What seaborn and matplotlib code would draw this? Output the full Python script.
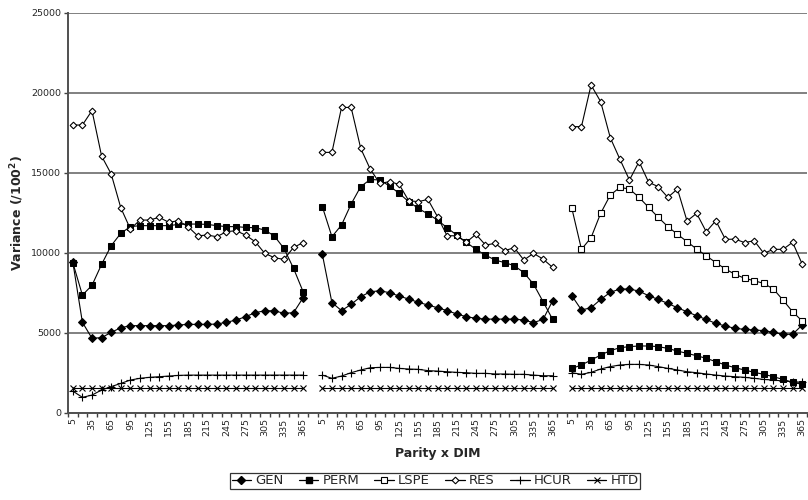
import numpy as np
import pandas as pd
import matplotlib
matplotlib.use("Agg")
import matplotlib.pyplot as plt
from matplotlib.lines import Line2D
import seaborn as sns

sns.set_theme(style="white")
plt.rcParams['font.family'] = ['DejaVu Sans']

dim = [5, 20, 35, 50, 65, 80, 95, 110, 125, 140, 155, 170, 185, 200, 215, 230,
       245, 260, 275, 290, 305, 320, 335, 350, 365]
parities = [1, 2, 3]

gen = [
    [9420, 5650, 4650, 4690, 5020, 5310, 5440, 5440, 5440, 5440, 5440, 5480, 5520,
     5520, 5520, 5540, 5650, 5790, 6000, 6250, 6370, 6370, 6210, 6250, 7190],
    [9900, 6880, 6380, 6770, 7250, 7560, 7620, 7500, 7290, 7100, 6900, 6730, 6560,
     6380, 6170, 6000, 5900, 5850, 5850, 5850, 5850, 5790, 5630, 5830, 7000],
    [7310, 6420, 6560, 7080, 7520, 7730, 7730, 7600, 7310, 7080, 6830, 6560, 6310,
     6060, 5830, 5580, 5420, 5270, 5210, 5170, 5130, 5020, 4900, 4900, 5480],
]
perm = [
    [9380, 7350, 7960, 9270, 10440, 11210, 11630, 11690, 11690, 11690, 11690, 11770, 11790,
     11790, 11770, 11690, 11630, 11630, 11580, 11560, 11420, 11040, 10270, 9020, 7560],
    [12880, 11000, 11730, 13040, 14130, 14580, 14540, 14170, 13710, 13190, 12770, 12420, 12040,
     11560, 11100, 10650, 10210, 9850, 9540, 9380, 9190, 8750, 8040, 6940, 5830],
    [2770, 2980, 3290, 3600, 3880, 4060, 4130, 4170, 4170, 4130, 4020, 3850, 3710,
     3560, 3400, 3190, 2980, 2810, 2670, 2520, 2400, 2250, 2080, 1900, 1770],
]
lspe = [
    [np.nan] * 25,
    [np.nan] * 25,
    [12770, 10210, 10940, 12460, 13600, 14080, 13980, 13460, 12830, 12210, 11630, 11150, 10690,
     10230, 9810, 9380, 8980, 8650, 8400, 8250, 8080, 7730, 7040, 6310, 5730],
]
res = [
    [17980, 17980, 18880, 16040, 14920, 12810, 11480, 12040, 12040, 12210, 11900, 12000, 11630,
     11060, 11100, 11000, 11310, 11380, 11100, 10690, 9960, 9690, 9580, 10330, 10630],
    [16270, 16270, 19080, 19080, 16520, 15210, 14330, 14440, 14270, 13250, 13190, 13330, 12250,
     11060, 11060, 10650, 11150, 10480, 10580, 10130, 10310, 9540, 9960, 9600, 9080],
    [17880, 17880, 20480, 19440, 17190, 15850, 14540, 15690, 14400, 14130, 13460, 13980, 11980,
     12460, 11310, 12000, 10830, 10850, 10630, 10750, 9960, 10210, 10210, 10650, 9290],
]
hcur = [
    [1350, 960, 1100, 1420, 1630, 1830, 2040, 2150, 2210, 2250, 2290, 2330, 2350,
     2350, 2350, 2350, 2350, 2350, 2350, 2350, 2350, 2350, 2350, 2350, 2350],
    [2350, 2150, 2290, 2500, 2670, 2810, 2830, 2830, 2770, 2730, 2710, 2630, 2600,
     2560, 2520, 2500, 2460, 2460, 2420, 2420, 2400, 2400, 2350, 2310, 2310],
    [2500, 2400, 2520, 2730, 2880, 2980, 3020, 3020, 2980, 2880, 2770, 2670, 2560,
     2500, 2420, 2350, 2290, 2250, 2210, 2150, 2080, 2040, 1980, 1940, 1900],
]
htd = [
    [1525] * 25,
    [1525] * 25,
    [1525] * 25,
]

series = ["GEN", "PERM", "LSPE", "RES", "HCUR", "HTD"]
values = {"GEN": gen, "PERM": perm, "LSPE": lspe, "RES": res, "HCUR": hcur, "HTD": htd}
styles = {
    "GEN": dict(marker="D", markersize=3.6, markerfacecolor="black", markeredgecolor="black"),
    "PERM": dict(marker="s", markersize=4.6, markerfacecolor="black", markeredgecolor="black"),
    "LSPE": dict(marker="s", markersize=4.6, markerfacecolor="white", markeredgecolor="black", markeredgewidth=0.8),
    "RES": dict(marker="D", markersize=3.4, markerfacecolor="white", markeredgecolor="black", markeredgewidth=0.8),
    "HCUR": dict(marker="+", markersize=5.5, markeredgecolor="black", markeredgewidth=0.8),
    "HTD": dict(marker="x", markersize=4.2, markeredgecolor="black", markeredgewidth=0.8),
}

n = len(dim)
gap = 1
rows = []
for s in series:
    for pi, p in enumerate(parities):
        for i, d in enumerate(dim):
            rows.append(dict(series=s, parity=p, dim=d, pos=pi * (n + gap) + i,
                             value=values[s][pi][i]))
df = pd.DataFrame(rows)

W, H = 808, 500
fig = plt.figure(figsize=(W / 100, H / 100), dpi=100)
ax = fig.add_axes([68 / W, 1 - 412.7 / H, (807 - 68) / W, 400 / H])

total = 3 * n + 2 * gap
for s in series:
    for p in parities:
        sub = df[(df.series == s) & (df.parity == p)].dropna()
        if sub.empty:
            continue
        sns.lineplot(data=sub, x="pos", y="value", ax=ax, color="black", linewidth=0.8,
                     estimator=None, sort=False, legend=False, **styles[s])

ax.set_xlim(-0.5, total - 0.5)
ax.set_ylim(0, 25000)
ax.set_yticks([0, 5000, 10000, 15000, 20000, 25000])
ax.set_yticklabels(["0", "5000", "10000", "15000", "20000", "25000"], fontsize=6.8)
ax.yaxis.grid(True, color="#808080", linewidth=1.4)
ax.xaxis.grid(False)
ax.set_axisbelow(True)

tick_pos = []
tick_lab = []
for pi in range(3):
    for i, d in enumerate(dim):
        if i % 2 == 0:
            tick_pos.append(pi * (n + gap) + i)
            tick_lab.append(str(d))
ax.set_xticks(tick_pos)
ax.set_xticklabels(tick_lab, rotation=90, fontsize=6.8)
ax.set_xticks(np.arange(-0.5, total, 1.0), minor=True)
ax.tick_params(axis="x", which="major", length=0, pad=4)
ax.tick_params(axis="x", which="minor", length=3, width=1, color="#404040", direction="out", bottom=True)
ax.tick_params(axis="y", which="major", length=3, width=1, color="#404040", direction="out", left=True, pad=2)

for side in ["top", "right"]:
    ax.spines[side].set_visible(False)
for side in ["left", "bottom"]:
    ax.spines[side].set_color("#505050")
    ax.spines[side].set_linewidth(1.4)

ax.set_xlabel("")
ax.set_ylabel("")
fig.text(17 / W, 1 - 212.7 / H, r"Variance (/100$^{\mathbf{2}}$)", rotation=90,
         ha="center", va="center", fontsize=9, fontweight="bold")
fig.text(438 / W, 1 - 453 / H, "Parity x DIM", ha="center", va="center",
         fontsize=9, fontweight="bold")

handles = [Line2D([0], [0], color="black", linewidth=0.9, **styles[s]) for s in series]
leg = fig.legend(handles, series, loc="center", bbox_to_anchor=(435 / W, 1 - 481 / H),
                 ncol=6, fontsize=9.5, frameon=True, fancybox=False, handlelength=1.5,
                 handletextpad=0.3, columnspacing=1.15, borderpad=0.15, borderaxespad=0)
leg.get_frame().set_edgecolor("black")
leg.get_frame().set_linewidth(0.9)

fig.savefig("out.png", dpi=100)
